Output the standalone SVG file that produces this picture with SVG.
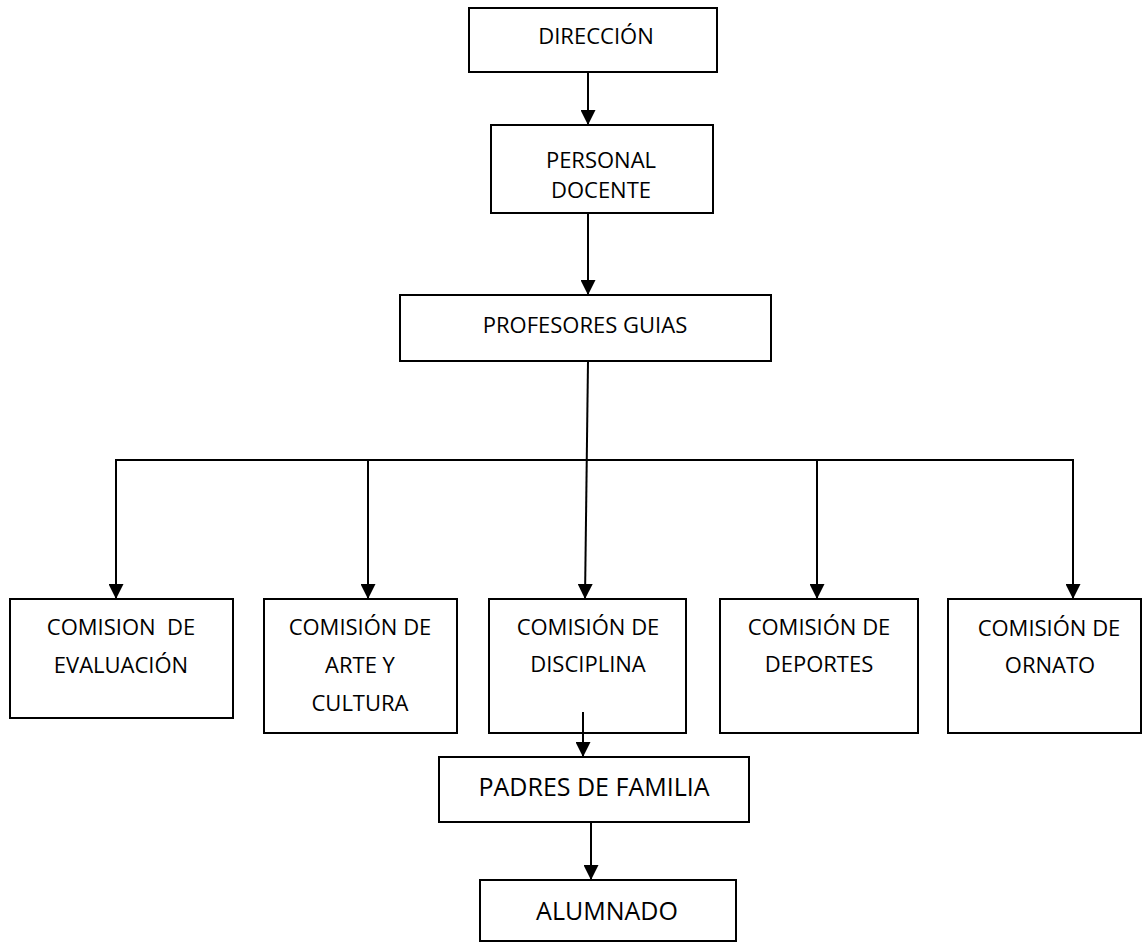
<svg xmlns="http://www.w3.org/2000/svg" width="1145" height="944" viewBox="0 0 1145 944">
<defs>
<style>
.box{fill:#fff;stroke:#000;stroke-width:2}
.t{font-family:"Open Sans","Noto Sans","Liberation Sans",sans-serif;font-size:22px;fill:#000;text-anchor:middle}
.tl{font-size:25px}
.c{stroke:#000;stroke-width:2;fill:none}
</style>
<marker id="ah" markerUnits="userSpaceOnUse" markerWidth="15" markerHeight="15" refX="15" refY="7.5" orient="auto">
<path d="M0,0 L15,7.5 L0,15 z" fill="#000"/>
</marker>
</defs>
<rect width="1145" height="944" fill="#fff"/>
<g id="n-direccion"><rect class="box" x="469" y="8" width="248" height="64"/><text class="t" x="596" y="44">DIRECCIÓN</text></g>
<g id="n-personal"><rect class="box" x="491" y="125" width="222" height="88"/><text class="t" x="601" y="168">PERSONAL</text><text class="t" x="601" y="198">DOCENTE</text></g>
<g id="n-profesores"><rect class="box" x="400" y="295" width="371" height="66"/><text class="t" x="585" y="333">PROFESORES GUIAS</text></g>
<g id="n-evaluacion"><rect class="box" x="10" y="599" width="223" height="119"/><text class="t" x="121" y="635" xml:space="preserve">COMISION  DE</text><text class="t" x="121" y="673">EVALUACIÓN</text></g>
<g id="n-arte"><rect class="box" x="264" y="599" width="193" height="134"/><text class="t" x="360" y="635">COMISIÓN DE</text><text class="t" x="360" y="673">ARTE Y</text><text class="t" x="360" y="711">CULTURA</text></g>
<g id="n-disciplina"><rect class="box" x="489" y="599" width="197" height="134"/><text class="t" x="588" y="635">COMISIÓN DE</text><text class="t" x="588" y="672">DISCIPLINA</text></g>
<g id="n-deportes"><rect class="box" x="720" y="599" width="198" height="134"/><text class="t" x="819" y="635">COMISIÓN DE</text><text class="t" x="819" y="672">DEPORTES</text></g>
<g id="n-ornato"><rect class="box" x="948" y="599" width="193" height="134"/><text class="t" x="1049" y="636">COMISIÓN DE</text><text class="t" x="1050" y="673">ORNATO</text></g>
<g id="n-padres"><rect class="box" x="439" y="757" width="310" height="65"/><text class="t tl" x="594" y="796">PADRES DE FAMILIA</text></g>
<g id="n-alumnado"><rect class="box" x="480" y="880" width="256" height="61"/><text class="t tl" x="607" y="920">ALUMNADO</text></g>
<g id="connectors">
<line class="c" x1="588" y1="72" x2="588" y2="125" marker-end="url(#ah)"/>
<line class="c" x1="588" y1="213" x2="588" y2="295" marker-end="url(#ah)"/>
<line class="c" x1="588" y1="361" x2="585" y2="599" marker-end="url(#ah)"/>
<line class="c" x1="115" y1="460" x2="1074" y2="460"/>
<line class="c" x1="116" y1="459" x2="116" y2="599" marker-end="url(#ah)"/>
<line class="c" x1="368" y1="459" x2="368" y2="599" marker-end="url(#ah)"/>
<line class="c" x1="817" y1="459" x2="817" y2="599" marker-end="url(#ah)"/>
<line class="c" x1="1073" y1="459" x2="1073" y2="599" marker-end="url(#ah)"/>
<line class="c" x1="583" y1="712" x2="583" y2="757" marker-end="url(#ah)"/>
<line class="c" x1="591" y1="822" x2="591" y2="880" marker-end="url(#ah)"/>
</g>
</svg>
